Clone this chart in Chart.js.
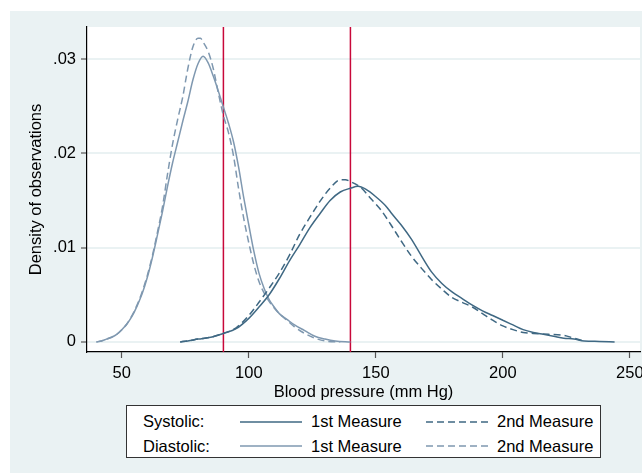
<!DOCTYPE html>
<html>
<head>
<meta charset="utf-8">
<script src="https://cdn.jsdelivr.net/npm/chart.js@4/dist/chart.umd.min.js"></script>
<style>
  html, body { margin: 0; padding: 0; background: #ffffff; }
  #wrap { position: relative; width: 642px; height: 473px; overflow: hidden; }
  canvas { position: absolute; left: 0; top: 0; }
  #legend { position: absolute; left: 126px; top: 405px; width: 473px; height: 51px;
            border: 1px solid #333; background: #fff;
            font-family: "Liberation Sans", Arial, sans-serif; font-size: 16.5px; color: #000; }
  .lg { position: absolute; white-space: nowrap; line-height: 17px; }
  .sw { position: absolute; }
</style>
</head>
<body>
<div id="wrap">
  <canvas id="c" width="642" height="473"></canvas>
  <div id="legend"></div>
</div>
<script>
// ---- Data ----
const sysX1 = [73, 76, 80, 85, 90, 95, 100, 104, 108, 112, 116, 120, 124, 128, 132, 136, 140, 143, 146, 150, 154, 156, 160, 164, 168, 172, 176, 180, 184, 188, 192, 196, 200, 204, 208, 212, 216, 220, 224, 228, 232, 238, 244];
const sysY1 = [0, 0.0001, 0.0003, 0.0005, 0.0009, 0.0014, 0.0025, 0.0037, 0.005, 0.0067, 0.0086, 0.0103, 0.0121, 0.0136, 0.015, 0.0159, 0.0163, 0.0165, 0.0162, 0.0154, 0.0144, 0.0137, 0.0124, 0.0109, 0.0091, 0.0074, 0.0062, 0.0053, 0.0046, 0.0039, 0.0033, 0.0028, 0.0023, 0.0018, 0.0013, 0.001, 0.0008, 0.0006, 0.0004, 0.0003, 0.0001, 0.00005, 0];

const sysX2 = [73, 76, 80, 85, 90, 95, 100, 104, 108, 112, 116, 120, 124, 128, 132, 136, 138, 140, 144, 148, 152, 156, 160, 164, 168, 172, 176, 180, 184, 188, 192, 196, 200, 204, 208, 212, 218, 224, 228, 232];
const sysY2 = [0, 0.0001, 0.0003, 0.0005, 0.0009, 0.0015, 0.0028, 0.0042, 0.0057, 0.0073, 0.0092, 0.0114, 0.0132, 0.0149, 0.0163, 0.0172, 0.0172, 0.017, 0.0164, 0.0152, 0.014, 0.0124, 0.0107, 0.0091, 0.0078, 0.0066, 0.0056, 0.0047, 0.0042, 0.0037, 0.003, 0.0023, 0.0017, 0.0013, 0.001, 0.0009, 0.0008, 0.0007, 0.0004, 0.0001];

const diaX1 = [40, 42, 44, 46, 48, 50, 52, 54, 56, 58, 60, 62, 64, 66, 68, 70, 72, 74, 76, 78, 80, 82, 84, 86, 88, 90, 92, 94, 96, 98, 100, 102, 104, 106, 108, 110, 112, 115, 118, 122, 126, 130, 134, 140];
const diaY1 = [0, 0.0001, 0.0003, 0.0005, 0.0008, 0.0013, 0.0019, 0.0027, 0.0038, 0.0051, 0.0068, 0.0089, 0.0113, 0.0138, 0.0165, 0.019, 0.0212, 0.0234, 0.0255, 0.0278, 0.0295, 0.0303, 0.0296, 0.0282, 0.0266, 0.0249, 0.0232, 0.0212, 0.0185, 0.0153, 0.0124, 0.0096, 0.0073, 0.0057, 0.0045, 0.0037, 0.003, 0.0024, 0.0018, 0.0012, 0.0006, 0.0003, 0.0001, 0];

const diaX2 = [40, 42, 44, 46, 48, 50, 52, 54, 56, 58, 60, 62, 64, 66, 68, 70, 72, 74, 76, 78, 80, 81, 82, 84, 86, 88, 90, 92, 94, 96, 98, 100, 102, 104, 106, 108, 110, 112, 115, 118, 122, 126, 130, 136];
const diaY2 = [0, 0.0001, 0.0003, 0.0005, 0.0008, 0.0013, 0.0019, 0.0028, 0.0039, 0.0053, 0.007, 0.0091, 0.0116, 0.0143, 0.0178, 0.021, 0.0236, 0.026, 0.029, 0.0313, 0.0322, 0.0322, 0.0318, 0.0308, 0.029, 0.0264, 0.0240, 0.0222, 0.0197, 0.0162, 0.0131, 0.0105, 0.0082, 0.0064, 0.0052, 0.0043, 0.0036, 0.003, 0.0023, 0.0016, 0.0009, 0.0004, 0.0001, 0];

const refLines = [90, 140];
const xTicks = [50, 100, 150, 200, 250];
const xTickLabels = ['50', '100', '150', '200', '250'];
const yTicks = [0, 0.01, 0.02, 0.03];
const yTickLabels = ['0', '.01', '.02', '.03'];
const xTitle = 'Blood pressure (mm Hg)';
const yTitle = 'Density of observations';
const legendRows = ['Systolic:', 'Diastolic:'];
const legendCols = ['1st Measure', '2nd Measure'];

// ---- Styling ----
const SYS = '#3f6883';
const DIA = '#7f98b0';
const RED = '#c8083a';
const BG = '#eaf2f3';
const FONT = '"Liberation Sans", Arial, sans-serif';
const FS = 16.5;
const xMin = 36.3, xMax = 254, yMin = -0.00107, yMax = 0.0334;

const pts = (xs, ys) => xs.map((x, i) => ({ x: x, y: ys[i] }));

const curve = (label, xs, ys, color, dash) => ({
  label: label, data: pts(xs, ys), borderColor: color, borderWidth: 1.5,
  borderDash: dash, pointRadius: 0, fill: false, tension: 0.35,
  cubicInterpolationMode: 'monotone'
});

const datasets = [
  curve('Systolic 1st', sysX1, sysY1, SYS, []),
  curve('Systolic 2nd', sysX2, sysY2, SYS, [7, 4]),
  curve('Diastolic 1st', diaX1, diaY1, DIA, []),
  curve('Diastolic 2nd', diaX2, diaY2, DIA, [7, 4])
];
refLines.forEach(v => datasets.push({
  label: 'ref ' + v, data: [{ x: v, y: yMin }, { x: v, y: yMax }],
  borderColor: RED, borderWidth: 1.5, pointRadius: 0, fill: false
}));

const bgPlugin = {
  id: 'bg',
  beforeDraw(chart) {
    const { ctx, chartArea: a } = chart;
    ctx.save();
    ctx.fillStyle = '#ffffff';
    ctx.fillRect(0, 0, chart.width, chart.height);
    ctx.fillStyle = BG;
    ctx.fillRect(10, 11, chart.width - 10, chart.height - 11);
    ctx.fillStyle = '#ffffff';
    ctx.fillRect(a.left, a.top, a.right - a.left, a.bottom - a.top);
    ctx.restore();
  }
};

new Chart(document.getElementById('c'), {
  type: 'line',
  data: { datasets: datasets },
  options: {
    responsive: false,
    animation: false,
    layout: { padding: { left: 0, top: 27, right: 2, bottom: 0 } },
    plugins: { legend: { display: false }, tooltip: { enabled: false } },
    scales: {
      x: {
        type: 'linear', min: xMin, max: xMax,
        afterBuildTicks(s) { s.ticks = xTicks.map(v => ({ value: v })); },
        afterFit(s) { s.height = 121; s.paddingLeft = 0; s.paddingRight = 0; },
        ticks: {
          callback: (v, i) => xTickLabels[i],
          font: { family: FONT, size: FS }, color: '#000', padding: 6,
          maxRotation: 0, autoSkip: false
        },
        grid: { drawOnChartArea: false, drawTicks: true, tickLength: 6, tickColor: '#555', tickWidth: 1.2 },
        border: { display: true, color: '#000', width: 1.2 },
        title: { display: true, text: xTitle, font: { family: FONT, size: FS }, color: '#000',
                 padding: { top: 0, bottom: 71 } }
      },
      y: {
        type: 'linear', min: yMin, max: yMax,
        afterBuildTicks(s) { s.ticks = yTicks.map(v => ({ value: v })); },
        afterFit(s) { s.width = 87; s.paddingTop = 0; s.paddingBottom = 0; },
        ticks: {
          callback: (v, i) => yTickLabels[i],
          font: { family: FONT, size: FS }, color: '#000', padding: 5, autoSkip: false
        },
        grid: { drawOnChartArea: true, color: BG, lineWidth: 2, drawTicks: true, tickLength: 6,
                tickColor: '#555', tickWidth: 1.2 },
        border: { display: true, color: '#000', width: 1.2 },
        title: { display: true, text: yTitle, font: { family: FONT, size: FS }, color: '#000',
                 padding: { top: 27, bottom: 0 } }
      }
    }
  },
  plugins: [bgPlugin]
});

// ---- HTML legend (real text) ----
const lg = document.getElementById('legend');
const rowColors = [SYS, DIA];
const rowY = [15.7, 40];            // centre of each row inside the box
const swX = [113, 299];             // sample line start (relative to box)
const txtX = [184, 370];            // entry text start
legendRows.forEach((name, r) => {
  const t = document.createElement('div');
  t.className = 'lg'; t.textContent = name;
  t.style.left = '16px'; t.style.top = (rowY[r] - 8.5) + 'px';
  lg.appendChild(t);
  legendCols.forEach((col, c) => {
    const svgNS = 'http://www.w3.org/2000/svg';
    const svg = document.createElementNS(svgNS, 'svg');
    svg.setAttribute('width', '62'); svg.setAttribute('height', '4');
    svg.setAttribute('class', 'sw');
    svg.style.left = swX[c] + 'px'; svg.style.top = (rowY[r] - 2) + 'px';
    const ln = document.createElementNS(svgNS, 'line');
    ln.setAttribute('x1', '0'); ln.setAttribute('x2', '62');
    ln.setAttribute('y1', '2'); ln.setAttribute('y2', '2');
    ln.setAttribute('stroke', rowColors[r]); ln.setAttribute('stroke-width', '1.6');
    if (c === 1) ln.setAttribute('stroke-dasharray', '7 4');
    svg.appendChild(ln);
    lg.appendChild(svg);
    const e = document.createElement('div');
    e.className = 'lg'; e.textContent = col;
    e.style.left = txtX[c] + 'px'; e.style.top = (rowY[r] - 8.5) + 'px';
    lg.appendChild(e);
  });
});
</script>
</body>
</html>
